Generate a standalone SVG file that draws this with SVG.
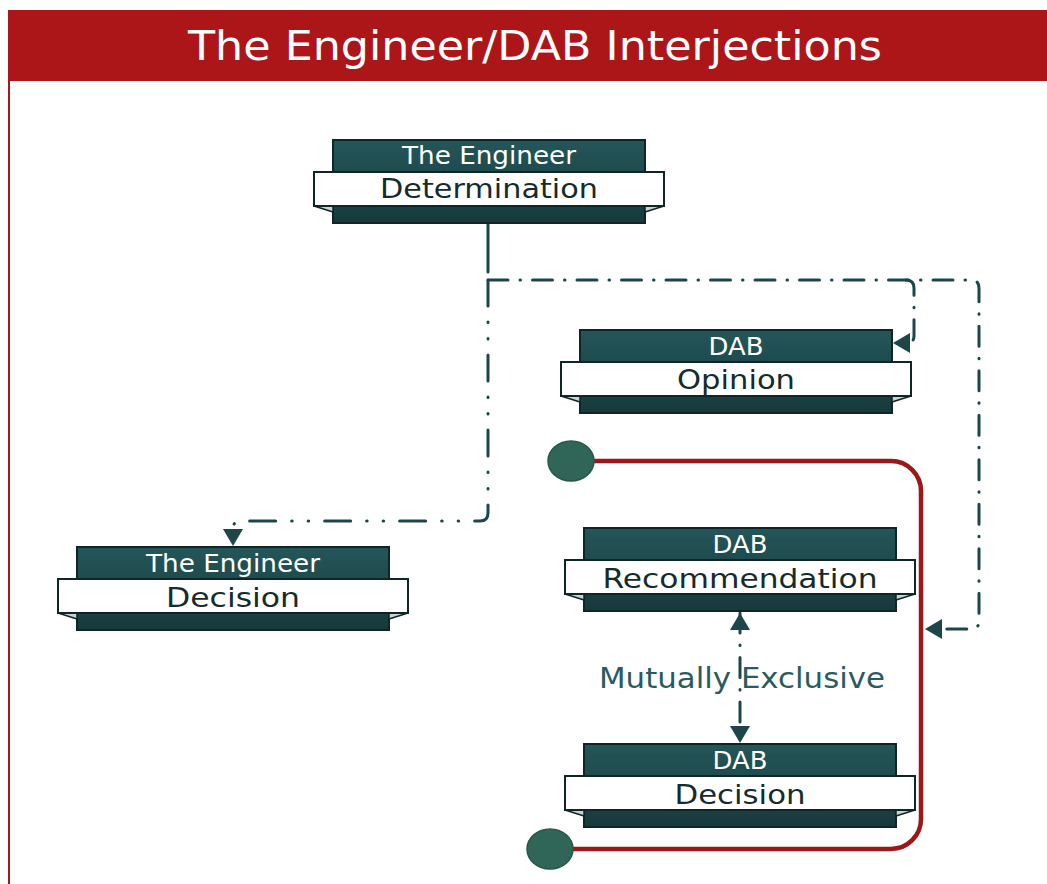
<svg xmlns="http://www.w3.org/2000/svg" xmlns:xlink="http://www.w3.org/1999/xlink" width="1047" height="884" viewBox="0 0 1047 884">
  <style>
    text { font-family: "DejaVu Sans", "Liberation Sans", sans-serif; text-anchor: middle; }
    .title { fill: #ffffff; font-size: 40px; }
    .head { fill: #ffffff; font-size: 24px; }
    .main { fill: #152b2c; font-size: 27px; }
    .note { fill: #2a5b5e; font-size: 28px; }
    .flow { fill: none; stroke: #1c4649; stroke-width: 3; stroke-linecap: round; stroke-linejoin: round; }
    .dashdot { stroke-dasharray: 20 12 0.5 12; }
    .dashdotdot { stroke-dasharray: 26 16 0.5 16 0.5 16; }
    .path { fill: none; stroke: #9c1717; stroke-width: 4.5; }
    .dot { fill: #2f6657; stroke: #285848; stroke-width: 1.5; }
  </style>
  <defs>
    <linearGradient id="band" x1="0" y1="0" x2="0" y2="1">
      <stop offset="0" stop-color="#245659"/>
      <stop offset="1" stop-color="#173a3c"/>
    </linearGradient>
    <!-- ribbon card: dark block with a white band that folds behind it -->
    <g id="ribbon">
      <rect x="0" y="0" width="312" height="83" fill="url(#band)" stroke="#0f2526" stroke-width="2"/>
      <polygon points="-19,66 0,72 0,66" fill="#c9d3d3" stroke="#0f2526" stroke-width="1.5" stroke-linejoin="round"/>
      <polygon points="331,66 312,72 312,66" fill="#c9d3d3" stroke="#0f2526" stroke-width="1.5" stroke-linejoin="round"/>
      <rect x="-19" y="32" width="350" height="34" fill="#ffffff" stroke="#0f2526" stroke-width="2"/>
    </g>
    <marker id="tri" markerUnits="userSpaceOnUse" markerWidth="18" markerHeight="22" viewBox="0 0 18 22" refX="17" refY="11" orient="auto-start-reverse">
      <path d="M0,1 L17,11 L0,21 Z" fill="#1c4649"/>
    </marker>
  </defs>

  <!-- header -->
  <g id="header">
    <rect x="8" y="10" width="1039" height="71" fill="#ac1618"/>
    <line x1="9" y1="81" x2="9" y2="884" stroke="#a01c1c" stroke-width="2"/>
    <text class="title" x="535" y="60" textLength="694" lengthAdjust="spacingAndGlyphs">The Engineer/DAB Interjections</text>
  </g>

  <!-- connectors -->
  <g id="connectors">
    <path class="path" d="M594,461 H891 A30,30 0 0 1 921,491 V819 A30,30 0 0 1 891,849 H573"/>
    <path class="flow" d="M488,223 V272"/>
    <path class="flow dashdot" d="M488,280 H971 Q979,280 979,288 V621 Q979,629 971,629 H925" marker-end="url(#tri)"/>
    <path class="flow dashdot" d="M906,280 Q914,280 914,288 V336 Q914,343 906,343 H893" marker-end="url(#tri)"/>
    <path class="flow dashdotdot" d="M488,280 V513 Q488,521 480,521 H241 Q233,521 233,529 V546" marker-end="url(#tri)"/>
    <path class="flow dashdot" d="M740,613 V743" marker-start="url(#tri)" marker-end="url(#tri)"/>
  </g>

  <!-- terminals of the red path -->
  <g id="start-dot"><ellipse class="dot" cx="571" cy="461" rx="23" ry="20"/></g>
  <g id="end-dot"><ellipse class="dot" cx="550" cy="849" rx="23" ry="20"/></g>

  <g id="label-mutually-exclusive">
    <text class="note" x="742" y="688" textLength="286" lengthAdjust="spacingAndGlyphs">Mutually Exclusive</text>
  </g>

  <g id="engineer-determination" transform="translate(333,140)">
    <use xlink:href="#ribbon"/>
    <text class="head" x="156" y="24" textLength="174" lengthAdjust="spacingAndGlyphs">The Engineer</text>
    <text class="main" x="156" y="58" textLength="218" lengthAdjust="spacingAndGlyphs">Determination</text>
  </g>

  <g id="dab-opinion" transform="translate(580,330)">
    <use xlink:href="#ribbon"/>
    <text class="head" x="156" y="25" textLength="55" lengthAdjust="spacingAndGlyphs">DAB</text>
    <text class="main" x="156" y="59" textLength="118" lengthAdjust="spacingAndGlyphs">Opinion</text>
  </g>

  <g id="engineer-decision" transform="translate(77,547)">
    <use xlink:href="#ribbon"/>
    <text class="head" x="156" y="25" textLength="174" lengthAdjust="spacingAndGlyphs">The Engineer</text>
    <text class="main" x="156" y="60" textLength="134" lengthAdjust="spacingAndGlyphs">Decision</text>
  </g>

  <g id="dab-recommendation" transform="translate(584,528)">
    <use xlink:href="#ribbon"/>
    <text class="head" x="156" y="25" textLength="55" lengthAdjust="spacingAndGlyphs">DAB</text>
    <text class="main" x="156" y="60" textLength="275" lengthAdjust="spacingAndGlyphs">Recommendation</text>
  </g>

  <g id="dab-decision" transform="translate(584,744)">
    <use xlink:href="#ribbon"/>
    <text class="head" x="156" y="25" textLength="55" lengthAdjust="spacingAndGlyphs">DAB</text>
    <text class="main" x="156" y="60" textLength="131" lengthAdjust="spacingAndGlyphs">Decision</text>
  </g>
</svg>
